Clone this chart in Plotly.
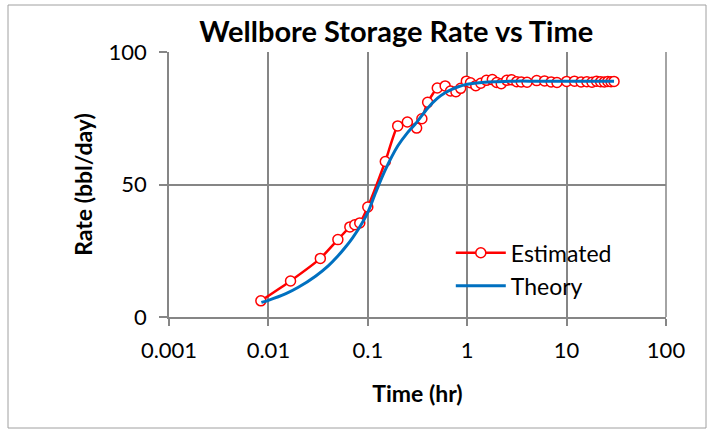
import plotly.graph_objects as go

# Estimated rate from measured data (time in hours, rate in bbl/day)
est_time = [0.0084, 0.0167, 0.0333, 0.05, 0.066, 0.074, 0.083, 0.1, 0.15, 0.2,
            0.25, 0.31, 0.35, 0.4, 0.5, 0.6, 0.68, 0.77, 0.86, 0.98,
            1.08, 1.22, 1.37, 1.56, 1.79, 1.98, 2.2, 2.5, 2.8, 3.15,
            3.5, 4.0, 5.0, 6.0, 7.0, 8.0, 10, 12, 14, 16,
            18, 20, 22, 24, 26, 28, 30]
est_rate = [6.1, 13.6, 22.1, 29.2, 34.0, 34.8, 35.5, 41.5, 58.7, 72.1,
            73.6, 71.3, 74.8, 81.0, 86.4, 87.2, 85.3, 85.0, 86.3, 89.0,
            88.4, 87.3, 88.2, 89.3, 89.6, 88.5, 88.0, 89.3, 89.5, 88.8,
            88.7, 88.6, 89.2, 89.1, 88.7, 88.5, 88.9, 89.0, 88.7, 88.8,
            88.6, 89.0, 88.8, 88.7, 88.9, 88.8, 88.9]

# Theoretical wellbore storage rate
theory_time = [0.0085, 0.01, 0.015, 0.02, 0.03, 0.04, 0.05, 0.06, 0.07, 0.08,
               0.1, 0.12, 0.15, 0.2, 0.25, 0.3, 0.4, 0.5, 0.6, 0.7,
               0.8, 1.0, 1.5, 2.0, 3.0, 5.0, 10, 20, 30]
theory_rate = [5.5, 6.3, 8.8, 11.2, 15.5, 19.3, 23.0, 26.5, 29.8, 33.0,
               39.5, 47.0, 55.5, 64.5, 69.5, 72.8, 78.8, 82.5, 84.6, 85.9,
               86.8, 87.8, 88.6, 88.8, 89.0, 89.0, 89.0, 89.0, 89.0]

x_tick_vals = [0.001, 0.01, 0.1, 1, 10, 100]
x_tick_text = ["0.001", "0.01", "0.1", "1", "10", "100"]
y_tick_vals = [0, 50, 100]

FONT = "Lato, 'Open Sans', sans-serif"
GRID = "#868686"

fig = go.Figure()
fig.add_trace(go.Scatter(
    x=est_time, y=est_rate, name="Estimated",
    mode="lines+markers",
    line=dict(color="#FF0000", width=2.5, shape="spline", smoothing=0.5),
    marker=dict(symbol="circle", size=10, color="white",
                line=dict(color="#FF0000", width=1.5)),
))
fig.add_trace(go.Scatter(
    x=theory_time, y=theory_rate, name="Theory",
    mode="lines",
    line=dict(color="#0070C0", width=3, shape="spline", smoothing=0.8),
))

fig.update_layout(
    width=714, height=434,
    margin=dict(l=169, r=48, t=52, b=117),
    paper_bgcolor="white", plot_bgcolor="white",
    font=dict(family=FONT, color="black", size=22),
    title=dict(text="<b>Wellbore Storage Rate vs Time</b>",
               x=0.555, xanchor="center", y=0.927, yanchor="middle",
               font=dict(size=29, family=FONT)),
    showlegend=True,
    legend=dict(x=0.567, y=0.18, xanchor="left", yanchor="middle",
                bgcolor="rgba(0,0,0,0)", font=dict(size=23, family=FONT),
                itemwidth=50, tracegroupgap=2),
    xaxis=dict(type="log", range=[-3, 2],
               tickvals=x_tick_vals, ticktext=x_tick_text,
               showgrid=True, gridcolor=GRID, gridwidth=1.5,
               showline=True, linecolor=GRID, linewidth=1.5, mirror=False,
               ticks="outside", ticklen=7, tickcolor=GRID, tickwidth=1.5,
               ticklabelstandoff=6,
               zeroline=False,
               title=dict(text="<b>Time (hr)</b>", standoff=24,
                          font=dict(size=23, family=FONT))),
    yaxis=dict(range=[0, 100], tickvals=y_tick_vals,
               showgrid=True, gridcolor=GRID, gridwidth=1.5,
               showline=True, linecolor=GRID, linewidth=1.5,
               ticks="outside", ticklen=8, tickcolor=GRID, tickwidth=1.5,
               ticklabelstandoff=8,
               zeroline=False,
               title=dict(text="<b>Rate (bbl/day)</b>", standoff=10,
                          font=dict(size=23, family=FONT))),
    shapes=[
        # chart frame
        dict(type="rect", xref="paper", yref="paper",
             x0=(8 - 169) / 497, x1=(706 - 169) / 497,
             y0=(317 - 428) / 265, y1=(317 - 5) / 265,
             line=dict(color="#A0A0A0", width=1), layer="below"),
        # right border of plot area
        dict(type="line", xref="paper", yref="paper", x0=1, x1=1, y0=0, y1=1,
             line=dict(color=GRID, width=1.5)),
    ],
)

fig.write_html("out.html")
